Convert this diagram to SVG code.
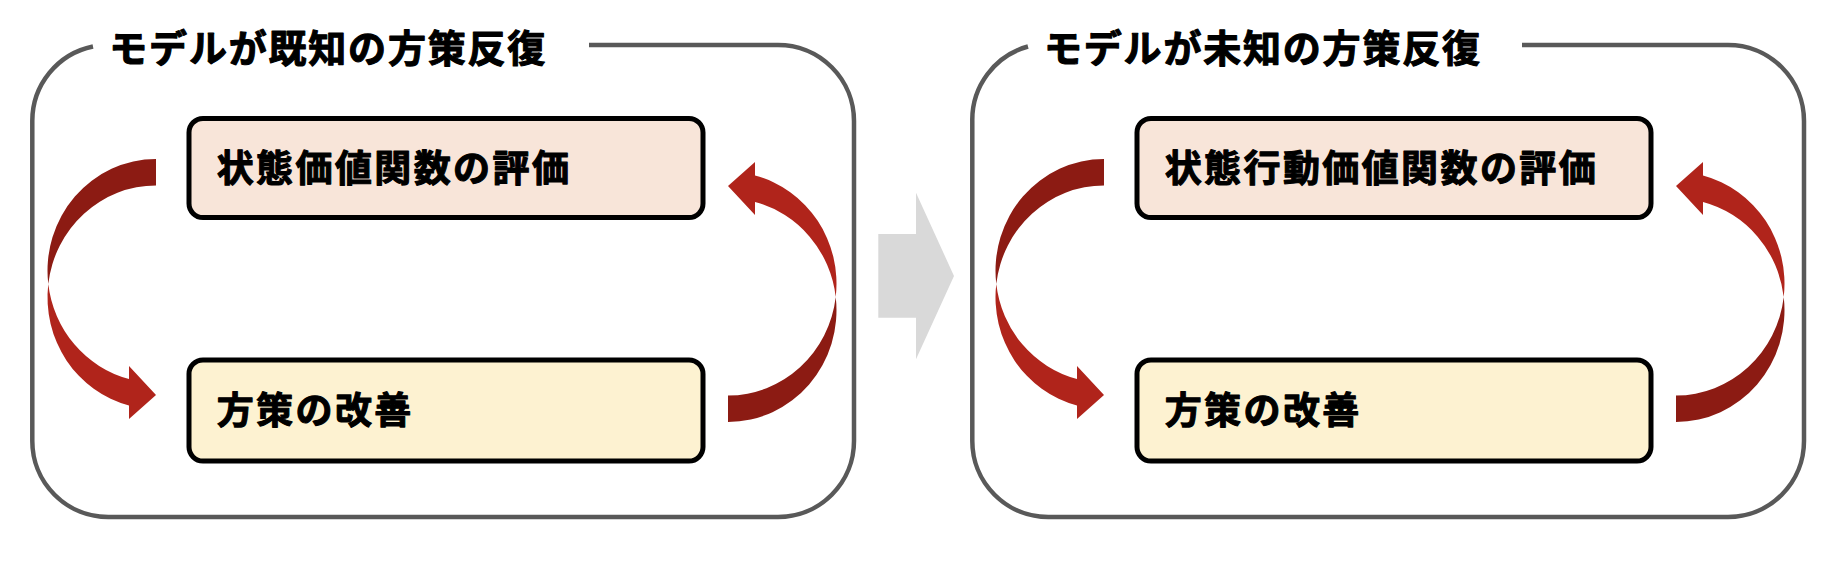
<svg xmlns="http://www.w3.org/2000/svg" width="1848" height="562" viewBox="0 0 1848 562">
<style>
.panel{fill:none;stroke:#595959;stroke-width:4.5}
.box{stroke:#000;stroke-width:5}
.eval{fill:#F8E5D9}
.impr{fill:#FDF2D1}
.title{font-family:"Noto Sans CJK JP","Noto Sans CJK SC",sans-serif;font-weight:700;font-size:38px;letter-spacing:1.8px;fill:#000;stroke:#000;stroke-width:1.1px;stroke-linejoin:round}
.label{font-family:"Noto Sans CJK JP","Noto Sans CJK SC",sans-serif;font-weight:700;font-size:37px;letter-spacing:2.4px;fill:#000;stroke:#000;stroke-width:1.1px;stroke-linejoin:round}
.back{fill:#8C1B13}
.front{fill:#B0241B}
</style>
<defs>
<g id="carrow">
<path class="back" d="M156 159 A108.5 111.75 0 0 0 48.27 284 A108.5 111.75 0 0 1 156 185.5 Z"/>
<path class="front" d="M48.27 284 A108.5 111.75 0 0 0 129 405.5 L129 419 L156 395 L129 366 L129 379 A108.5 111.75 0 0 1 48.27 284 Z"/>
</g>
</defs>
<g id="panel-known">
<path class="panel" d="M589 45 H778 A76 76 0 0 1 854 121 V441 A76 76 0 0 1 778 517 H108.3 A76 76 0 0 1 32.3 441 V121 A76 76 0 0 1 93 46.5"/>
<text class="title" x="109.3" y="45" dominant-baseline="central">モデルが既知の方策反復</text>
</g>
<g id="panel-unknown">
<path class="panel" d="M1522 45 H1728 A76 76 0 0 1 1804 121 V441 A76 76 0 0 1 1728 517 H1048.3 A76 76 0 0 1 972.3 441 V121 A76 76 0 0 1 1028 46.5"/>
<text class="title" x="1044" y="45" dominant-baseline="central">モデルが未知の方策反復</text>
</g>
<g id="node-eval-v">
<rect class="box eval" x="189" y="118.5" width="514" height="99" rx="14"/>
<text class="label" x="216.7" y="166" dominant-baseline="central">状態価値関数の評価</text>
</g>
<g id="node-improve-1">
<rect class="box impr" x="189" y="360" width="514" height="101" rx="14"/>
<text class="label" x="216.7" y="408" dominant-baseline="central">方策の改善</text>
</g>
<g id="node-eval-q">
<rect class="box eval" x="1137" y="118.5" width="514" height="99" rx="14"/>
<text class="label" x="1164.7" y="166" dominant-baseline="central">状態行動価値関数の評価</text>
</g>
<g id="node-improve-2">
<rect class="box impr" x="1137" y="360" width="514" height="101" rx="14"/>
<text class="label" x="1164.7" y="408" dominant-baseline="central">方策の改善</text>
</g>
<g id="connectors">
<use href="#carrow"/>
<use href="#carrow" transform="translate(884,581) rotate(180)"/>
<use href="#carrow" transform="translate(948,0)"/>
<use href="#carrow" transform="translate(1832,581) rotate(180)"/>
<polygon fill="#D9D9D9" points="878.3,234 916,234 916,192.7 954,276 916,359.3 916,317.7 878.3,317.7"/>
</g>
</svg>
